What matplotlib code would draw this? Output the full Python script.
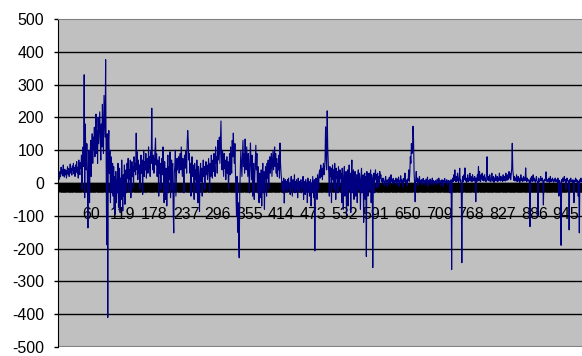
import numpy as np
import matplotlib
matplotlib.use('Agg')
import matplotlib.pyplot as plt

# 字体
plt.rcParams['font.family'] = ['Liberation Sans Narrow', 'Liberation Sans', 'DejaVu Sans']

# 数据（从图上估读，每行 25 个点）
values = [
    12, 35, 20, 48, 28, 40, 22, 55, 30, 18, 42, 25, 38, 15, 33, 50, 27, 44, 20, 36, 58, 30, 45, 24, 52,
    38, 60, 28, 47, 20, 55, 35, 65, 30, 48, 15, 70, 40, 25, 62, 45, 85, -20, 60, 110, 50, 330, -45, 180, 95,
    40, 120, 10, -137, 60, 100, -60, 75, 130, 20, 95, 150, 60, 140, 100, 170, 80, 130, 210, 90, 160, 60, 200, 120, 170,
    217, 130, 70, 180, 110, 240, 150, 90, 267, 200, 140, 376, 60, -188, 150, -410, 120, 160, 30, 100, -60, 80, 40, -30, 60,
    -40, 50, -80, 20, -95, 35, -60, 10, -30, 60, -75, -10, 45, -90, 15, -50, 70, -20, -85, 25, -40, 55, -65, 5, 40,
    -30, 60, 15, 75, -25, 40, 10, 70, -45, 30, 65, 20, 50, -15, 80, 35, 60, 25, 152, 40, 95, 10, 70, 30, 55,
    -20, 60, 85, 30, 70, -35, 45, 100, 20, 65, 40, 90, 15, 55, 75, 30, 110, 45, 80, 20, 95, 60, 228, 70, 40,
    85, 30, 60, 100, 137, 55, 90, 20, 70, 45, -40, 80, 30, 60, -20, 50, 75, 25, 110, 40, -60, 65, 20, -50, 45,
    -70, 30, 85, -30, 50, 10, 95, -45, 40, 70, -20, 60, -90, -152, 30, 50, 100, -40, 20, 75, 40, 65, 80, 30, 55,
    90, 40, 110, 60, 20, 75, 50, -30, 85, 45, 60, 100, 30, 120, 160, 130, 70, 90, 30, 60, -40, 45, 80, 20, 55,
    30, -50, 60, 10, 40, -30, 70, 20, -60, 50, 15, -87, 35, 60, 5, 45, -40, 30, 70, 20, 50, -20, 40, 65, 25,
    55, 10, 40, 75, 30, -25, 60, 20, 85, 45, 15, 70, 35, 90, 50, 20, 110, 60, 80, 30, 130, 70, 100, 140, 60,
    120, 189, 80, 40, 100, 60, 20, 90, 45, 70, 10, 55, 80, 30, 65, -20, 40, 90, 25, 110, 60, 30, 130, 80, 152,
    100, 60, 120, 30, -40, -100, 20, -150, -60, -180, -228, -30, 40, 100, 60, 20, 80, 130, 50, 90, 30, 134, 70, 40, 110,
    60, 20, 90, 40, -30, 75, 122, 50, 10, 85, -40, 30, 60, -50, 20, 70, 115, 40, 90, -30, 50, 15, -60, 30, 10,
    -45, 40, -70, 20, 60, -30, 35, -80, 10, 50, 25, -40, 60, 15, 70, -20, 40, 80, 30, 55, 90, 20, 60, 100, 40,
    70, 110, 50, 90, 30, 75, 20, 60, 40, 85, 15, 122, 60, 30, 10, -20, 5, -30, 15, -61, 0, 10, -15, 5, -25,
    10, -5, 15, -20, 0, -35, 5, 20, -10, -40, 10, -15, 0, 25, -30, 5, -20, 10, -5, -45, 15, 0, -25, 5, -10,
    10, -30, 0, -15, 20, -50, 5, -10, -35, 10, -20, 0, -60, 15, -25, 5, -40, -10, 10, -70, 0, -30, 20, -15, -45,
    10, -207, -30, 15, 0, -50, 25, 10, -20, 30, 40, 15, 55, 20, 45, 10, 35, 60, 25, 40, 70, 171, 90, 40, 220,
    110, 60, 30, -40, 50, 20, 45, -60, 30, 55, 10, 40, -20, 60, 25, -50, 45, 15, 35, -30, 50, 20, -10, 40, 15,
    30, -60, 45, 10, -80, 25, 50, -40, 15, 35, -100, 20, 40, -70, 10, 55, -20, 30, -90, 15, 70, -30, 25, 40, -50,
    20, 35, -40, 10, 25, -60, 15, 40, -20, 30, 5, -80, 20, 45, -30, 10, 25, -120, 15, 30, -50, 20, -224, 35, 10,
    -40, 20, 30, -20, 10, 40, -60, 25, 5, -258, 15, 30, -30, 20, 40, 10, 25, -15, 30, 5, 20, -10, 35, 15, 25,
    5, 12, -5, 15, 8, 3, -8, 10, 20, 2, 8, -10, 5, 12, 0, 18, -5, 6, 25, 4, 10, -3, 14, 6, 0,
    8, 3, 15, -6, 5, 12, 2, 18, -10, 6, 4, 22, 0, 10, 5, -12, 14, 3, 8, 30, 2, 10, 5, -8, 12,
    8, 40, 5, 30, 80, 60, 120, 90, 100, 173, 130, 30, 0, -57, 10, 35, 5, 15, -8, 12, 4, 20, 0, 8, 3,
    10, -5, 6, 14, 2, 8, -6, 4, 12, 0, 6, 18, -10, 4, 8, 2, 12, -4, 6, 3, 15, 0, 8, -6, 5,
    2, 8, 4, -4, 12, 6, 0, 15, 3, 8, -8, 6, 2, 10, 4, -10, 8, 2, 14, 4, 0, 6, 10, -4, 3,
    8, 2, 6, -30, 4, 10, -264, 6, 15, 4, 25, 8, 40, 10, 4, 20, 6, 30, 8, 2, 15, 45, 6, 10, -20,
    -243, 8, 20, 4, 25, 10, 46, 6, 15, 2, 10, 25, 4, 15, 8, 30, 6, 20, 10, 4, 25, 8, 15, 6, 20,
    10, -57, 15, 4, 25, 8, 50, 6, 35, 10, 4, 25, 12, 30, 8, 20, 6, 25, 10, 15, 4, 30, 80, 15, 8,
    20, 6, 25, 8, 4, 15, 30, 6, 10, 20, 2, 15, 8, 25, 6, 10, 20, 4, 15, 8, 30, 10, 6, 20, 8,
    15, 4, 25, 8, 20, 10, 6, 30, 15, 8, 25, 10, 20, 35, 15, 30, 10, 25, 45, 121, 40, 25, 8, 20, 6,
    15, 8, 25, 4, 10, 20, 6, 15, 2, 10, 25, 8, 15, 4, 10, 20, 6, 15, 8, 46, 10, 4, 15, 8, 6,
    10, 4, -133, 15, 8, 20, 4, 10, 25, 6, 15, 8, 2, 10, 20, 6, 4, -102, 15, 8, 4, 10, 20, 6, 8,
    15, 4, -67, 8, 10, 6, 15, 34, 8, 4, 10, 6, 15, 2, 8, 20, 4, 10, 6, 15, 8, 2, 10, 6, 15,
    4, 10, 8, 2, 15, 6, -40, 8, 4, -30, -190, 10, 6, 15, 4, 8, 20, 6, 10, -20, 4, 15, 6, 8, 4,
    -143, 10, 6, 15, 4, 8, 2, 10, 6, -60, 8, 4, 15, 6, 10, 2, 8, -40, 4, -152, 10, 6, 15, 4, 8,
]
categories = np.arange(1, len(values) + 1)
label_step = 59
y_ticks = [-500, -400, -300, -200, -100, 0, 100, 200, 300, 400, 500]

# 创建图形
fig = plt.figure(figsize=(5.82, 3.56), dpi=100)
ax = fig.add_axes([58 / 582, 9 / 356, 524 / 582, 328 / 356])
ax.set_facecolor('#c0c0c0')

ax.plot(categories, values, color='#000080', linewidth=0.8, zorder=3)

# 坐标范围
ax.set_xlim(1 - 1.5 / 0.539, 1 - 1.5 / 0.539 + 524 / 0.539)
ax.set_ylim(-500, 500)

# Y 轴
ax.set_yticks(y_ticks)
ax.set_yticklabels([str(v) for v in y_ticks], fontsize=11.5)
ax.tick_params(axis='y', direction='out', length=3, width=1, pad=7, colors='black')
for v in y_ticks[1:-1]:
    ax.axhline(v, color='black', linewidth=1, zorder=1)

# X 轴放在 0 处，每个分类一个刻度（第一个标签被坐标轴挡住，不显示）
ax.spines['bottom'].set_position(('data', 0))
ax.spines['bottom'].set_linewidth(1)
ax.spines['bottom'].set_zorder(2)
ax.set_xticks(categories)
ax.set_xticklabels([str(c) if (c - 1) % label_step == 0 and c > 1 else '' for c in categories], fontsize=11.5)
ax.tick_params(axis='x', direction='out', length=6.5, width=0.8, pad=11, colors='black')

# 边框
ax.spines['right'].set_visible(False)
ax.spines['top'].set_color('#808080')
ax.spines['left'].set_color('black')
ax.axhline(-500, color='#808080', linewidth=1.5, zorder=1)

plt.savefig('out.png', dpi=100)
